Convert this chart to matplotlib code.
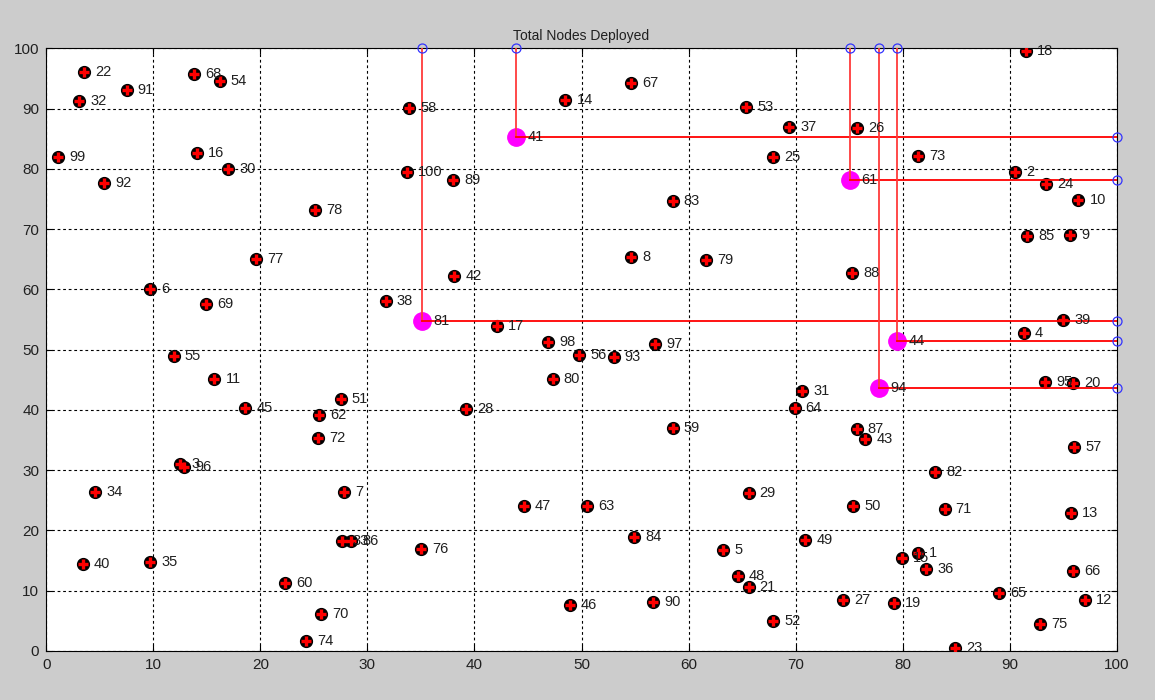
import numpy as np
import matplotlib.pyplot as plt

plt.rcParams['font.family'] = ['Liberation Sans', 'DejaVu Sans']

# node positions, index i+1 is node id
node_x = [81.4, 90.5, 12.5, 91.3, 63.2, 9.7, 27.8, 54.6, 95.6, 96.4,
          15.7, 97.0, 95.7, 48.5, 79.9, 14.1, 42.1, 91.5, 79.2, 95.9,
          65.6, 3.5, 84.9, 93.4, 67.9, 75.7, 74.4, 39.2, 65.6, 17.0,
          70.6, 3.1, 27.6, 4.6, 9.7, 82.2, 69.4, 31.7, 95.0, 3.4,
          43.9, 38.1, 76.5, 79.5, 18.6, 48.9, 44.6, 64.6, 70.9, 75.4,
          27.5, 67.9, 65.4, 16.2, 11.9, 49.8, 96.0, 33.9, 58.5, 22.3,
          75.1, 25.5, 50.5, 69.9, 89.0, 95.9, 54.6, 13.8, 14.9, 25.7,
          83.9, 25.4, 81.4, 24.3, 92.8, 35.0, 19.6, 25.1, 61.6, 47.3,
          35.1, 83.0, 58.5, 54.9, 91.6, 28.5, 75.7, 75.3, 38.0, 56.7,
          7.5, 5.4, 53.0, 77.8, 93.3, 12.9, 56.9, 46.9, 1.1, 33.7]
node_y = [16.3, 79.5, 31.1, 52.8, 16.7, 60.1, 26.3, 65.4, 69.0, 74.8,
          45.1, 8.4, 22.9, 91.4, 15.4, 82.6, 53.9, 99.6, 7.9, 44.4,
          10.7, 96.1, 0.5, 77.5, 81.9, 86.8, 8.5, 40.1, 26.2, 80.0,
          43.1, 91.2, 18.2, 26.4, 14.7, 13.6, 87.0, 58.1, 55.0, 14.5,
          85.3, 62.3, 35.1, 51.4, 40.3, 7.7, 24.0, 12.4, 18.5, 24.0,
          41.8, 5.0, 90.3, 94.6, 49.0, 49.1, 33.8, 90.1, 37.0, 11.2,
          78.1, 39.1, 24.1, 40.4, 9.6, 13.2, 94.2, 95.7, 57.5, 6.1,
          23.6, 35.4, 82.2, 1.6, 4.5, 17.0, 65.0, 73.2, 64.8, 45.1,
          54.8, 29.7, 74.6, 18.9, 68.9, 18.2, 36.9, 62.7, 78.1, 8.2,
          93.0, 77.6, 48.8, 43.7, 44.7, 30.6, 50.9, 51.2, 82.0, 79.5]
node_ids = [str(i + 1) for i in range(len(node_x))]

# selected cluster heads
heads = [81, 41, 61, 94, 44]

fig = plt.figure(figsize=(11.55, 7.0), dpi=100, facecolor='#cccccc')
ax = fig.add_axes([0.040, 0.070, 0.927, 0.861])
ax.set_facecolor('white')

ax.set_xlim(0, 100)
ax.set_ylim(0, 100)
ax.set_xticks(np.arange(0, 101, 10))
ax.set_yticks(np.arange(0, 101, 10))
ax.tick_params(direction='in', length=4, labelsize=11, colors='black',
               labelcolor='#202020', top=True, right=True, pad=5)
ax.grid(True, color='black', linestyle=(0, (2.5, 2.5)), linewidth=0.8)
ax.set_axisbelow(True)
for s in ax.spines.values():
    s.set_linewidth(0.8)
ax.set_title('Total Nodes Deployed', fontsize=10, pad=6, color='#202020')

# all nodes: black disc with red cross
ax.plot(node_x, node_y, 'o', color='black', markersize=8.5, zorder=3)
ax.plot(node_x, node_y, '+', color='red', markersize=6.5, mew=2.4, zorder=4)

# cluster heads and their links to the sink borders
for h in heads:
    hx, hy = node_x[h - 1], node_y[h - 1]
    ax.plot(hx, hy, 'o', color='magenta', markersize=12.5, zorder=5)
    ax.plot([hx, hx], [hy, 100], color='#ff3a3a', linewidth=1.3, zorder=6)
    ax.plot([hx, 100], [hy, hy], color='red', linewidth=1.3, zorder=6)
    ax.plot([hx, 100], [100, hy], 'o', mfc='none', mec='#3333ff',
            markersize=6.5, mew=0.9, clip_on=False, zorder=7)

for x, y, t in zip(node_x, node_y, node_ids):
    ax.annotate(t, (x, y), xytext=(8, 0), textcoords='offset points',
                va='center', ha='left', fontsize=10.5, color='#202020',
                zorder=8)

fig.savefig('out.png', dpi=100, facecolor=fig.get_facecolor())
